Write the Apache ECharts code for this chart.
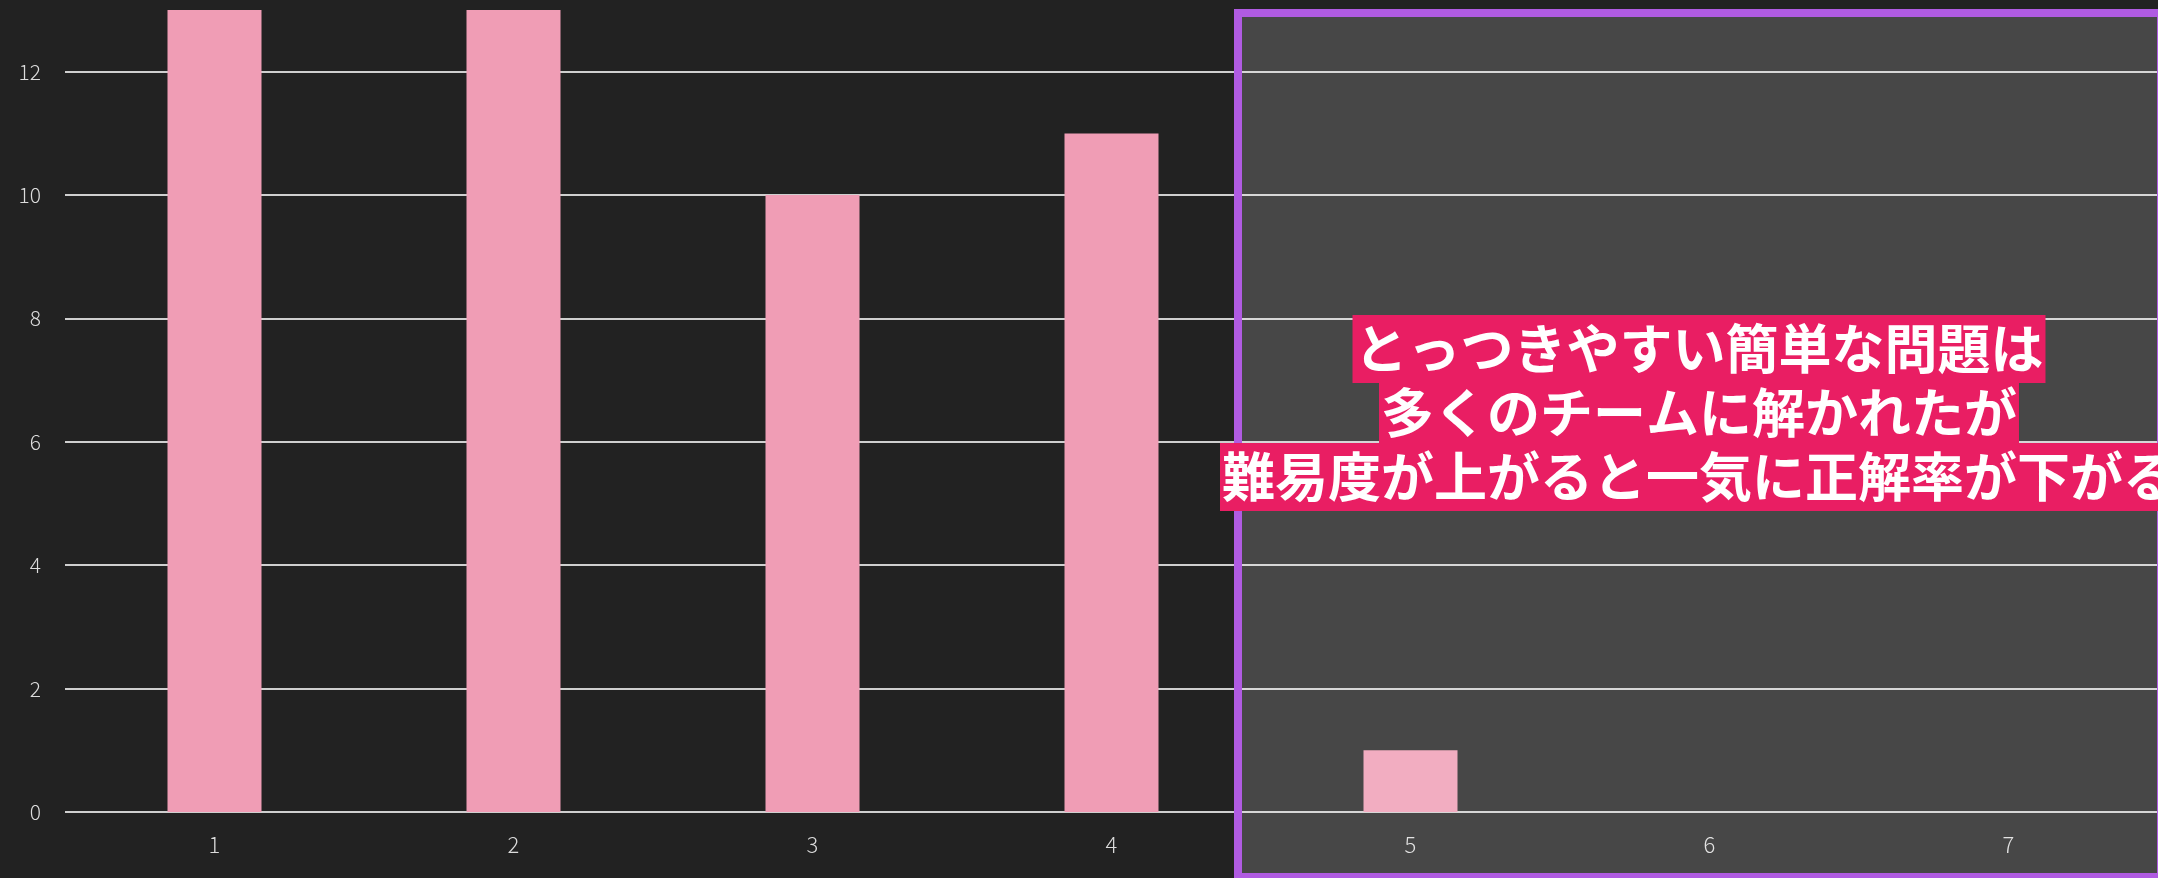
<!DOCTYPE html>
<html><head><meta charset="utf-8">
<script src="https://cdn.jsdelivr.net/npm/echarts@6/dist/echarts.min.js"></script>
<style>html,body{margin:0;padding:0;background:#222222;}#c{width:2158px;height:878px;}</style>
</head><body><div id="c"></div>
<script>
const categories = ['1', '2', '3', '4', '5', '6', '7'];
const values = [13, 13, 10, 11, 1, 0, 0];
const annotationLines = ['とっつきやすい簡単な問題は', '多くのチームに解かれたが', '難易度が上がると一気に正解率が下がる'];

const chart = echarts.init(document.getElementById('c'), null, {renderer: 'canvas'});
const lineYs = [349, 413, 477];
chart.setOption({
  backgroundColor: '#222222',
  animation: false,
  grid: {left: 65, right: 0, top: 10, bottom: 66, containLabel: false},
  xAxis: {
    type: 'category', data: categories,
    axisLine: {show: false}, axisTick: {show: false},
    axisLabel: {color: '#dcdcdc', fontSize: 22, margin: 22, fontFamily: 'Noto Sans CJK JP', fontWeight: 300}
  },
  yAxis: {
    type: 'value', min: 0, max: 13, interval: 2,
    axisLine: {show: false}, axisTick: {show: false},
    axisLabel: {color: '#dcdcdc', fontSize: 21, margin: 24, showMaxLabel: false, fontFamily: 'Noto Sans CJK JP', fontWeight: 300},
    splitLine: {show: true, showMaxLine: false, lineStyle: {color: '#cfcfcf', width: 2}}
  },
  series: [{
    type: 'bar', data: values, barWidth: 94,
    itemStyle: {color: '#f09db5'}
  }],
  graphic: [
    {type: 'rect', z: 100, silent: true,
     shape: {x: 1238, y: 13, width: 923, height: 864},
     style: {fill: 'rgba(255,255,255,0.17)', stroke: '#b05be2', lineWidth: 8}},
  ].concat(annotationLines.map((t, i) => ({
    type: 'text', z: 110, silent: true, x: 1699, y: lineYs[i],
    style: {text: t, fill: '#ffffff', font: 'bold 53px "Noto Sans CJK JP"',
            textAlign: 'center', textVerticalAlign: 'middle',
            backgroundColor: '#e91e63', padding: [4, 2, 4, 2], lineHeight: 60}
  })))
});
</script></body></html>
